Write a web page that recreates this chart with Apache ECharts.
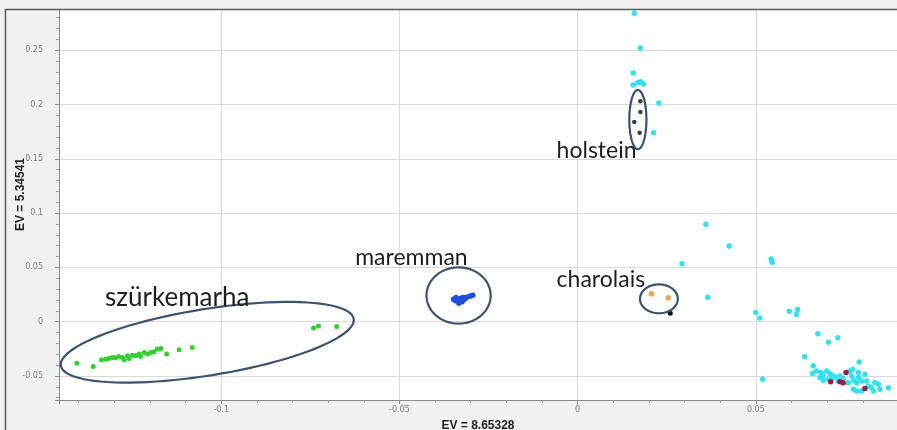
<!DOCTYPE html>
<html><head><meta charset="utf-8">
<script src="https://cdn.jsdelivr.net/npm/echarts@6/dist/echarts.min.js"></script>
<style>html,body{margin:0;padding:0;background:#f1f1f1}#c{width:897px;height:430px}</style>
</head><body><div id="c"></div><script>
// ---- data ----
const cyanPts = [
 [0.0159,0.284],[0.0176,0.252],[0.0156,0.229],[0.0156,0.218],[0.0177,0.221],[0.0185,0.219],[0.0169,0.220],[0.0228,0.2015],[0.0213,0.174],
 [0.0360,0.0898],[0.0425,0.0697],[0.0293,0.0534],[0.0543,0.0577],[0.0546,0.0546],[0.0365,0.0225],[0.0500,0.0083],[0.0511,0.0034],[0.0594,0.0095],[0.0617,0.0111],[0.0614,0.0065],
 [0.0674,-0.0111],[0.0704,-0.0191],[0.0730,-0.0148],[0.0637,-0.0324],[0.0661,-0.0407],[0.0519,-0.0531],[0.0790,-0.0373],
 [0.0659,-0.0478],[0.0670,-0.0454],[0.0683,-0.0469],[0.0689,-0.0491],[0.0699,-0.0454],[0.0708,-0.0478],[0.0717,-0.0500],[0.0727,-0.0515],[0.0736,-0.0500],[0.0680,-0.0515],[0.0689,-0.0540],[0.0703,-0.0531],[0.0713,-0.0522],[0.0731,-0.0546],[0.0764,-0.0454],[0.0769,-0.0500],[0.0774,-0.0540],[0.0783,-0.0562],[0.0788,-0.0515],[0.0797,-0.0546],[0.0806,-0.0485],[0.0811,-0.0546],[0.0816,-0.0593],[0.0825,-0.0608],[0.0834,-0.0562],[0.0844,-0.0577],[0.0848,-0.0624],[0.0774,-0.0624],[0.0783,-0.0639],[0.0797,-0.0639],[0.0830,-0.0639],[0.0872,-0.0608],[0.0788,-0.0469],[0.0772,-0.0438],[0.0759,-0.0562],[0.0745,-0.0522]
];
const redPts = [[0.0753,-0.0469],[0.0745,-0.0562],[0.0736,-0.0553],[0.0806,-0.0615],[0.0710,-0.0553]];
const holsteinPts = [[0.0176,0.203],[0.0176,0.193],[0.0159,0.184],[0.0174,0.174]];
const greenPts = [
 [-0.1405,-0.0383],[-0.1359,-0.0414],[-0.1336,-0.0352],[-0.1324,-0.0346],[-0.1315,-0.0340],[-0.1305,-0.0330],[-0.1296,-0.0333],[-0.1287,-0.0321],[-0.1277,-0.0330],[-0.1272,-0.0352],[-0.1263,-0.0315],[-0.1258,-0.0340],[-0.1249,-0.0309],[-0.1240,-0.0315],[-0.1230,-0.0299],[-0.1226,-0.0321],[-0.1216,-0.0284],[-0.1207,-0.0299],[-0.1197,-0.0284],[-0.1188,-0.0278],[-0.1179,-0.0253],[-0.1169,-0.0247],[-0.1153,-0.0299],[-0.1118,-0.0259],[-0.1081,-0.0238],
 [-0.0741,-0.0058],[-0.0727,-0.0040],[-0.0676,-0.0046]
];
const bluePts = [[-0.0348,0.0206],[-0.0341,0.0222],[-0.0336,0.0192],[-0.0329,0.0213],[-0.0324,0.0182],[-0.0317,0.0206],[-0.0313,0.0222],[-0.0305,0.0231],[-0.0299,0.0238],[-0.0294,0.0244],[-0.0333,0.0169],[-0.0343,0.0192],[-0.0322,0.0222]];
const orangePts = [[0.0207,0.0256],[0.0254,0.0219]];
const blackPts = [[0.0260,0.0077]];
// ellipses: centre x, centre y, half-width (x units), half-height (y units), tilt (deg)
const ellipses = [[-0.1039,-0.0190,0.0416,0.0306,9.1],[-0.0334,0.0241,0.0090,0.0259,0],[0.0228,0.0210,0.0053,0.0133,0],[0.0169,0.1861,0.0024,0.0273,0]];
const labelNames = ['szürkemarha','maremman','charolais','holstein'];
const labelPos = [[-0.1326,0.0222],[-0.0624,0.0593],[-0.0059,0.0389],[-0.0059,0.158]];
const xName = 'EV = 8.65328', yName = 'EV = 5.34541';
// styling (not data)
const labelFontSizes = [26,23,23,23];

const chart = echarts.init(document.getElementById('c'));
function sc(data,color,size){return {type:'scatter',data,symbolSize:size,itemStyle:{color,opacity:1},silent:true,z:3};}
const axisCommon = {
  type:'value',
  axisLine:{onZero:false,lineStyle:{color:'#8a8a8a',width:1}},
  axisTick:{show:true,length:4,lineStyle:{color:'#8a8a8a'}},
  minorTick:{show:true,splitNumber:5,length:3,lineStyle:{color:'#9a9a9a'}},
  axisLabel:{fontSize:8,color:'#7a7a7a',fontFamily:'DejaVu Sans',showMinLabel:false,showMaxLabel:false},
  splitLine:{show:true,showMinLine:false,showMaxLine:false,lineStyle:{color:'#d9d9d9',width:1}},
  nameLocation:'middle',
  nameMoveOverlap:false,
  nameTextStyle:{fontWeight:'bold',fontSize:12,color:'#222',fontFamily:'Liberation Sans Narrow, Liberation Sans'}
};
chart.setOption({
  backgroundColor:'#f1f1f1',
  animation:false,
  grid:{left:59,right:0,top:9,bottom:30,show:true,backgroundColor:'#ffffff',borderWidth:0,containLabel:false,outerBoundsMode:'none'},
  xAxis:Object.assign({},axisCommon,{min:-0.1455,max:0.0896,splitNumber:5,name:xName,nameGap:20,
    axisLabel:Object.assign({},axisCommon.axisLabel,{margin:6})}),
  yAxis:Object.assign({},axisCommon,{min:-0.0722,max:0.288,splitNumber:7,name:yName,nameGap:32,
    nameTextStyle:Object.assign({},axisCommon.nameTextStyle,{padding:[0,0,0,20]}),
    axisLabel:Object.assign({},axisCommon.axisLabel,{margin:16})}),
  graphic:[
    {type:'line',shape:{x1:5,y1:9.5,x2:897,y2:9.5},style:{stroke:'#5a5a5a',lineWidth:1.5},z:100},
    {type:'line',shape:{x1:5.5,y1:9,x2:5.5,y2:430},style:{stroke:'#5a5a5a',lineWidth:1.5},z:100}
  ],
  series:[
    sc(cyanPts,'#2fe3f0',5.5),
    sc(redPts,'#a3164a',5.5),
    sc(holsteinPts,'#3c3c3c',4.5),
    sc(greenPts,'#2fd12a',5),
    sc(bluePts,'#1c4ede',5.5),
    sc(orangePts,'#f0a048',5.5),
    sc(blackPts,'#111111',5),
    {type:'custom',data:ellipses,silent:true,z:5,clip:false,
     renderItem:function(params,api){
       const c=api.coord([api.value(0),api.value(1)]);
       const s=api.size([api.value(2),api.value(3)]);
       const th=api.value(4)*Math.PI/180, pts=[];
       for(let i=0;i<=96;i++){const t=i/96*2*Math.PI;const dx=s[0]*Math.cos(t),dy=s[1]*Math.sin(t);
         pts.push([c[0]+dx*Math.cos(th)+dy*Math.sin(th), c[1]-dx*Math.sin(th)+dy*Math.cos(th)]);}
       return {type:'polygon',shape:{points:pts},style:{fill:'none',stroke:'#3b5275',lineWidth:2.2}};
     }},
    {type:'custom',data:labelPos,silent:true,z:6,clip:false,
     renderItem:function(params,api){
       const p=api.coord([api.value(0),api.value(1)]);
       return {type:'text',x:p[0],y:p[1],style:{text:labelNames[params.dataIndex],fill:'#1e1e1e',fontSize:labelFontSizes[params.dataIndex],fontFamily:'Lato',align:'left',verticalAlign:'middle'}};
     }}
  ]
});
</script></body></html>
